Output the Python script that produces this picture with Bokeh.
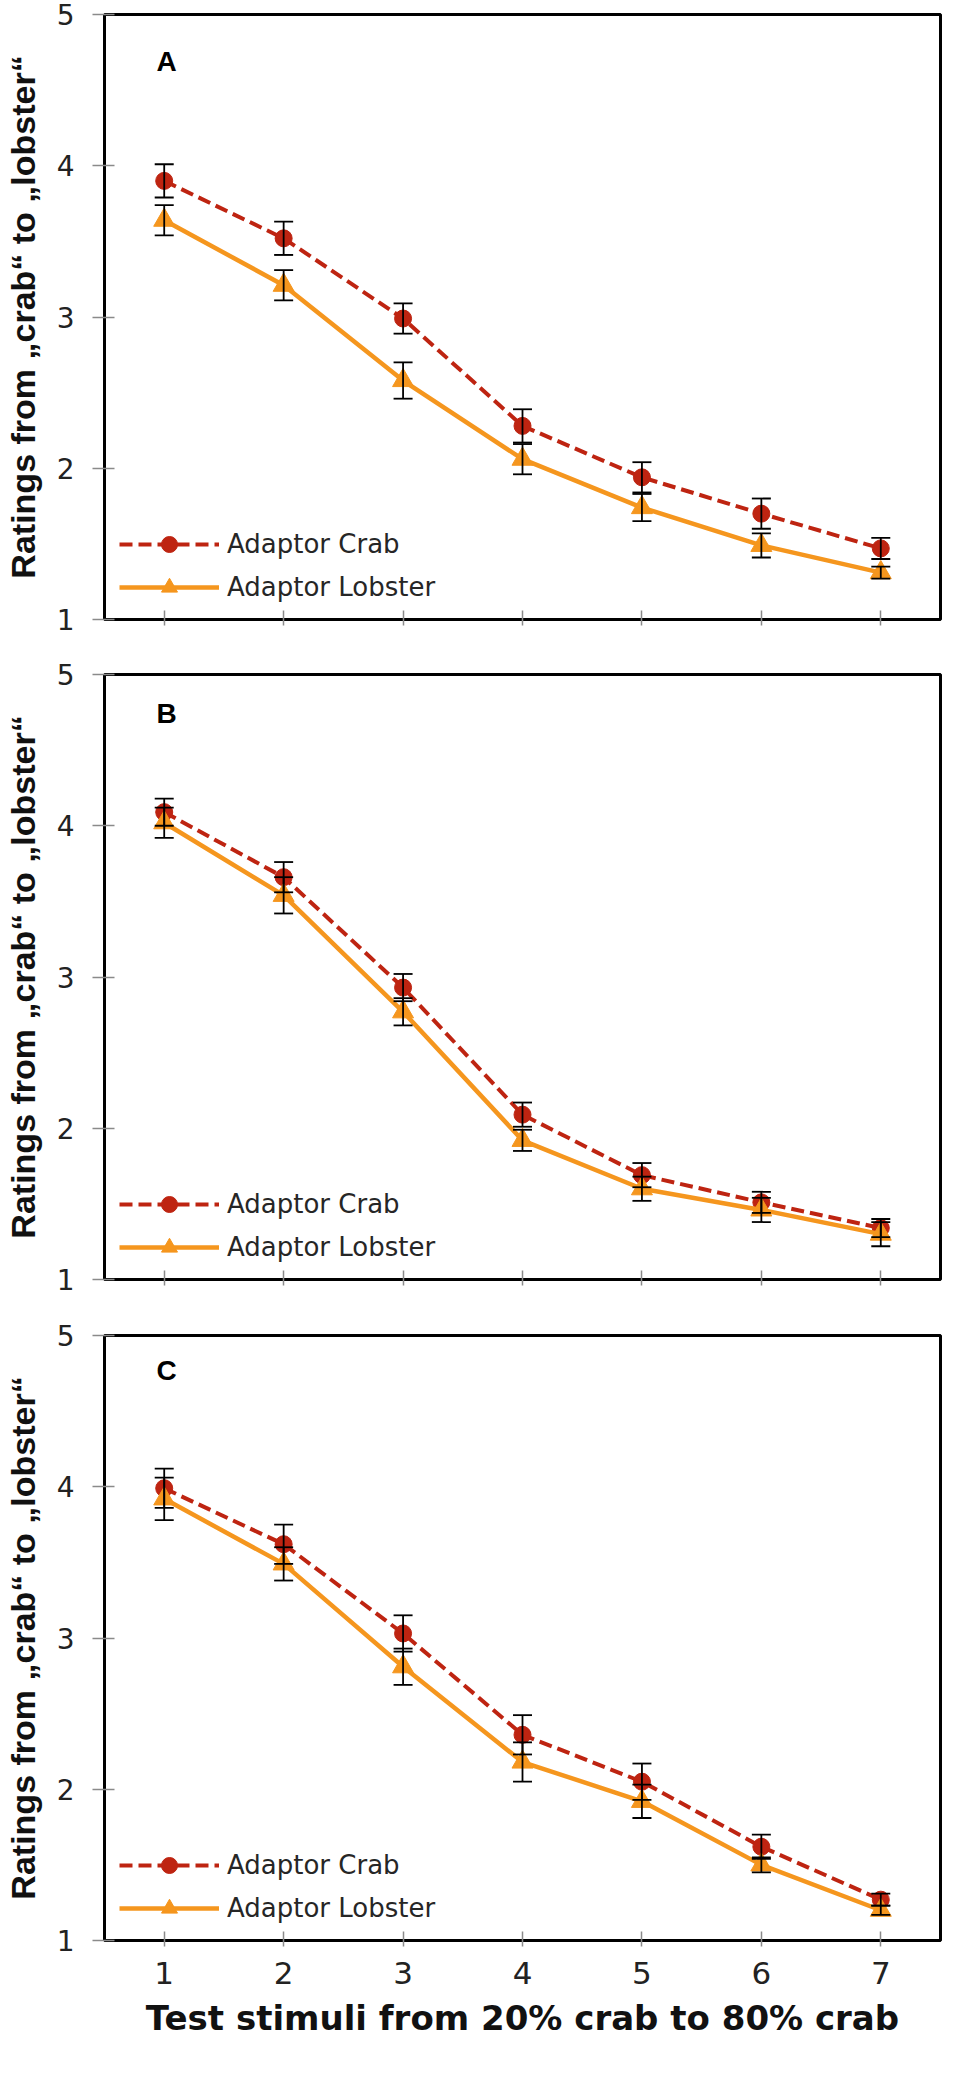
from bokeh.plotting import figure
from bokeh.models import (Range1d, FixedTicker, Whisker, ColumnDataSource, Legend,
                          LegendItem, Label, TeeHead)
from bokeh.layouts import column
from bokeh.embed import file_html
from bokeh.resources import INLINE

# ---------------- data ----------------
stimuli = [1, 2, 3, 4, 5, 6, 7]
y_ticks = [1, 2, 3, 4, 5]
panel_letters = ["A", "B", "C"]
series_names = ["Adaptor Crab", "Adaptor Lobster"]
y_title = "Ratings from \u201ecrab\u201c to \u201elobster\u201c"
x_title = "Test stimuli from 20% crab to 80% crab"

crab_A = [3.90, 3.52, 2.99, 2.28, 1.94, 1.70, 1.47]
crab_A_err = [0.11, 0.11, 0.10, 0.11, 0.10, 0.10, 0.07]
lobster_A = [3.64, 3.21, 2.58, 2.06, 1.74, 1.49, 1.31]
lobster_A_err = [0.10, 0.10, 0.12, 0.10, 0.09, 0.08, 0.04]

crab_B = [4.09, 3.66, 2.93, 2.09, 1.69, 1.51, 1.34]
crab_B_err = [0.09, 0.10, 0.09, 0.08, 0.08, 0.07, 0.06]
lobster_B = [4.02, 3.54, 2.77, 1.92, 1.60, 1.46, 1.30]
lobster_B_err = [0.10, 0.12, 0.09, 0.07, 0.08, 0.08, 0.08]

crab_C = [3.99, 3.62, 3.03, 2.36, 2.05, 1.62, 1.27]
crab_C_err = [0.13, 0.13, 0.12, 0.13, 0.12, 0.08, 0.04]
lobster_C = [3.92, 3.49, 2.81, 2.18, 1.92, 1.50, 1.20]
lobster_C_err = [0.14, 0.11, 0.12, 0.13, 0.11, 0.05, 0.03]

letter_y = [4.69, 4.74, 4.77]

panels = [
    (crab_A, crab_A_err, lobster_A, lobster_A_err),
    (crab_B, crab_B_err, lobster_B, lobster_B_err),
    (crab_C, crab_C_err, lobster_C, lobster_C_err),
]

CRAB = "#BE2411"
LOBSTER = "#F5961E"
FONT = "Liberation Sans"
WIDE = "DejaVu Sans"

FRAME_W = 838
PX = 7.0 / FRAME_W          # data units per pixel along x

figs = []
for i, (crab, crab_err, lob, lob_err) in enumerate(panels):
    last = (i == 2)
    bottom = [41, 42, 120][i]
    p = figure(width=102 + FRAME_W + 4, height=14 + 605 + bottom,
               output_backend="svg", toolbar_location=None,
               x_range=Range1d(0.5, 7.5), y_range=Range1d(1, 5),
               min_border_left=102, min_border_right=4, min_border_top=14,
               min_border_bottom=bottom)
    p.xgrid.visible = False
    p.ygrid.visible = False
    p.outline_line_color = "black"
    p.outline_line_width = 3
    p.background_fill_color = "white"
    p.border_fill_color = "white"

    # axes
    p.yaxis.ticker = FixedTicker(ticks=y_ticks)
    p.xaxis.ticker = FixedTicker(ticks=stimuli)
    for ax in (p.xaxis[0], p.yaxis[0]):
        ax.axis_line_color = "black"
        ax.axis_line_width = 2
        ax.major_tick_line_color = "#8a8a8a"
        ax.major_tick_line_width = 1.5
        ax.minor_tick_line_color = None
        ax.major_label_text_font = WIDE
        ax.major_label_text_color = "#222222"
    p.yaxis.major_label_text_font_size = "28px"
    p.yaxis.major_tick_out = 12
    p.yaxis.major_tick_in = 10
    p.yaxis.major_label_standoff = 18
    p.yaxis.axis_label = y_title
    p.yaxis.axis_label_text_font = FONT
    p.yaxis.axis_label_text_font_size = "34px"
    p.yaxis.axis_label_text_font_style = "bold"
    p.yaxis.axis_label_text_color = "#111111"
    p.yaxis.axis_label_standoff = 12
    p.xaxis.major_tick_out = 6
    p.xaxis.major_tick_in = 9
    if last:
        p.xaxis.major_label_text_font_size = "31px"
        p.xaxis.major_label_standoff = 15
        p.xaxis.axis_label = x_title
        p.xaxis.axis_label_text_font = WIDE
        p.xaxis.axis_label_text_font_size = "34px"
        p.xaxis.axis_label_text_font_style = "bold"
        p.xaxis.axis_label_text_color = "#111111"
        p.xaxis.axis_label_standoff = 11
    else:
        p.xaxis.major_label_text_color = None
        p.xaxis.major_label_text_font_size = "1px"
        p.xaxis.major_label_standoff = 0

    src_c = ColumnDataSource(dict(x=stimuli, y=crab,
                                  lo=[v - e for v, e in zip(crab, crab_err)],
                                  hi=[v + e for v, e in zip(crab, crab_err)]))
    src_l = ColumnDataSource(dict(x=stimuli, y=lob,
                                  lo=[v - e for v, e in zip(lob, lob_err)],
                                  hi=[v + e for v, e in zip(lob, lob_err)]))

    lc = p.line("x", "y", source=src_c, line_color=CRAB, line_width=4, line_dash="13 6")
    mc = p.scatter("x", "y", source=src_c, marker="circle", size=17,
                   fill_color=CRAB, line_color=CRAB)
    ll = p.line("x", "y", source=src_l, line_color=LOBSTER, line_width=4.5)
    ml = p.scatter("x", "y", source=src_l, marker="triangle", size=21,
                   fill_color=LOBSTER, line_color=LOBSTER)

    for src in (src_c, src_l):
        w = Whisker(source=src, base="x", upper="hi", lower="lo",
                    line_color="black", line_width=1.8, level="annotation",
                    upper_head=TeeHead(size=19, line_color="black", line_width=1.8),
                    lower_head=TeeHead(size=19, line_color="black", line_width=1.8))
        p.add_layout(w)

    legend = Legend(items=[LegendItem(label=series_names[0], renderers=[lc, mc]),
                           LegendItem(label=series_names[1], renderers=[ll, ml])],
                    location=(15, 12), glyph_width=100, glyph_height=40, spacing=3,
                    padding=0, margin=0, border_line_color=None,
                    background_fill_alpha=0, label_text_font=WIDE,
                    label_text_font_size="26px", label_text_color="#262626",
                    label_standoff=8)
    p.add_layout(legend)

    p.add_layout(Label(x=0.5 + 52 * PX, y=letter_y[i], text=panel_letters[i],
                       text_font=FONT, text_font_size="28px", text_font_style="bold",
                       text_baseline="middle", text_align="left", text_color="black"))
    figs.append(p)

layout = column(*figs, spacing=0)
open("out.html", "w").write(file_html(layout, INLINE))
